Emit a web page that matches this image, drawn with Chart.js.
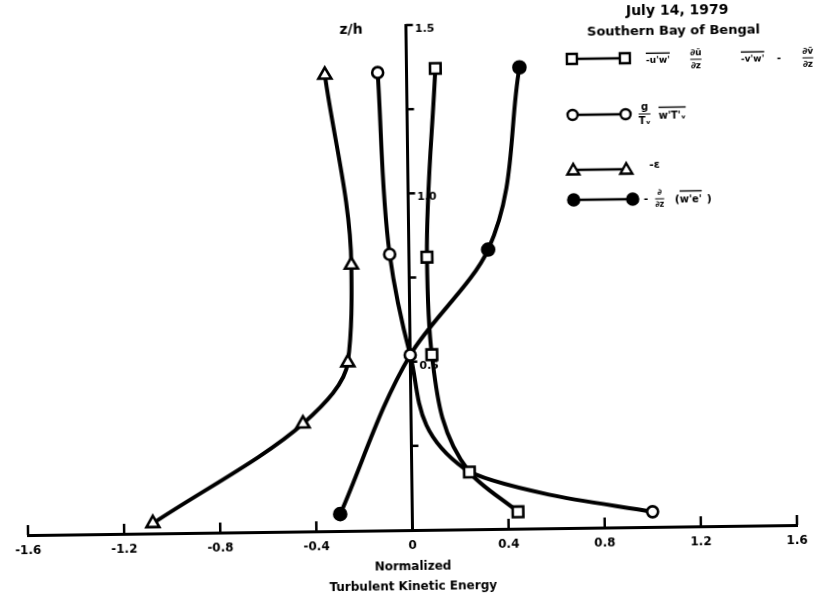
<!DOCTYPE html>
<html>
<head>
<meta charset="utf-8">
<title>Turbulent kinetic energy budget</title>
<script src="https://cdn.jsdelivr.net/npm/chart.js@4.4.1/dist/chart.umd.min.js"></script>
<style>
  html, body { margin: 0; padding: 0; background: #fff; overflow: hidden; }
  /* the original sheet sits slightly skewed on the page */
  #tke { display: block; transform: rotate(-0.75deg); transform-origin: 50% 50%; }
</style>
</head>
<body>
<canvas id="tke" width="829" height="600"></canvas>
<script>
// axis ticks
const xTicks = [-1.6, -1.2, -0.8, -0.4, 0, 0.4, 0.8, 1.2, 1.6];
const zTicks = [0.25, 0.5, 0.75, 1.0, 1.25, 1.5];
const zLabelled = [0.5, 1.0, 1.5];

// shear production  -u'w' du/dz - v'w' dv/dz
const shearZ   = [1.37, 0.81, 0.52, 0.17, 0.05];
const shearTKE = [0.12, 0.075, 0.09, 0.24, 0.44];

// buoyancy  g/Tv w'Tv'  (points 4 and 5 lie on the curve without a symbol)
const buoyZ      = [1.36, 0.82, 0.52, 0.18, 0.10, 0.045];
const buoyTKE    = [-0.12, -0.08, 0.0, 0.22, 0.57, 1.0];
const buoyMarked = [true, true, true, false, false, true];

// dissipation  -eps
const dissZ   = [1.355, 0.79, 0.50, 0.32, 0.03];
const dissTKE = [-0.34, -0.24, -0.26, -0.45, -1.08];

// turbulent transport  -d/dz (w'e')  (the curve runs through z/h = 0.52 on the axis)
const transZ      = [1.37, 0.83, 0.52, 0.05];
const transTKE    = [0.47, 0.33, 0.0, -0.30];
const transMarked = [true, true, false, true];

const ink = '#000';
const face = 'DejaVu Sans';
Chart.defaults.font.family = face;

function pts(xs, zs) {
  return xs.map((v, i) => ({ x: v, y: zs[i] }));
}

function series(xs, zs, style, extra) {
  return Object.assign({
    data: pts(xs, zs),
    borderColor: ink,
    borderWidth: 4,
    pointStyle: style,
    pointBackgroundColor: '#fff',
    pointBorderColor: ink,
    pointBorderWidth: 2.6,
    cubicInterpolationMode: 'monotone',
    fill: false
  }, extra);
}

// little helpers for the legend formulas
function txt(ctx, s, x, y, size, align) {
  ctx.font = 'bold ' + size + 'px "' + face + '"';
  ctx.textAlign = align || 'left';
  ctx.textBaseline = 'middle';
  ctx.fillText(s, x, y);
  return ctx.measureText(s).width;
}
function overlined(ctx, s, x, y, size) {
  const w = txt(ctx, s, x, y, size);
  ctx.lineWidth = 1.4;
  ctx.beginPath();
  ctx.moveTo(x, y - size * 0.85);
  ctx.lineTo(x + w, y - size * 0.85);
  ctx.stroke();
  return w;
}
function frac(ctx, num, den, cx, y, size) {
  txt(ctx, num, cx, y - size * 0.7, size, 'center');
  txt(ctx, den, cx, y + size * 0.7, size, 'center');
  ctx.font = 'bold ' + size + 'px "' + face + '"';
  const w = Math.max(ctx.measureText(num).width, ctx.measureText(den).width);
  ctx.lineWidth = 1;
  ctx.beginPath();
  ctx.moveTo(cx - w / 2, y);
  ctx.lineTo(cx + w / 2, y);
  ctx.stroke();
}
function symbol(ctx, style, x, y) {
  ctx.lineWidth = 2.4;
  ctx.fillStyle = style === 'filled' ? ink : '#fff';
  ctx.beginPath();
  if (style === 'rect') {
    ctx.rect(x - 5, y - 5, 10, 10);
  } else if (style === 'triangle') {
    ctx.moveTo(x, y - 6);
    ctx.lineTo(x + 6, y + 4.5);
    ctx.lineTo(x - 6, y + 4.5);
    ctx.closePath();
  } else {
    ctx.arc(x, y, style === 'filled' ? 5.5 : 5, 0, Math.PI * 2);
  }
  ctx.fill();
  ctx.stroke();
  ctx.fillStyle = ink;
}
function sample(ctx, style, x1, x2, y) {
  ctx.lineWidth = 2.5;
  ctx.beginPath();
  ctx.moveTo(x1, y);
  ctx.lineTo(x2, y);
  ctx.stroke();
  symbol(ctx, style, x1, y);
  symbol(ctx, style, x2, y);
}

// axis through x = 0, tick marks and all the lettering
const crossAxes = {
  id: 'crossAxes',
  beforeDatasetsDraw(chart) {
    const { ctx, scales: { x, y } } = chart;
    const x0 = x.getPixelForValue(0);
    const yb = y.getPixelForValue(0);
    ctx.save();
    ctx.strokeStyle = ink;
    ctx.fillStyle = ink;
    ctx.lineWidth = 3;
    ctx.beginPath();
    ctx.moveTo(x0, yb);
    ctx.lineTo(x0, y.getPixelForValue(zTicks[zTicks.length - 1]) - 1);
    ctx.stroke();
    ctx.lineWidth = 2.5;
    zTicks.forEach(v => {
      const py = y.getPixelForValue(v);
      ctx.beginPath();
      ctx.moveTo(x0, py);
      ctx.lineTo(x0 + 7, py);
      ctx.stroke();
    });
    xTicks.forEach(v => {
      const px = x.getPixelForValue(v);
      ctx.beginPath();
      ctx.moveTo(px, yb);
      ctx.lineTo(px, yb - 10);
      ctx.stroke();
    });
    zLabelled.forEach(v => {
      txt(ctx, v.toFixed(1), x0 + 9, y.getPixelForValue(v) + 4, 11);
    });
    txt(ctx, 'z/h', x0 - 55, y.getPixelForValue(1.5) + 4, 14, 'center');
    ctx.restore();
  },
  afterDraw(chart) {
    const ctx = chart.ctx;
    ctx.save();
    ctx.strokeStyle = ink;
    ctx.fillStyle = ink;
    txt(ctx, 'July 14, 1979', 681, 14, 14, 'center');
    txt(ctx, 'Southern Bay of Bengal', 677, 35, 13, 'center');

    sample(ctx, 'rect', 575, 628, 61);
    overlined(ctx, "-u'w'", 649, 64, 9);
    frac(ctx, '\u2202\u016b', '\u2202z', 699, 63, 9);
    overlined(ctx, "-v'w'", 744, 64, 9);
    txt(ctx, '-', 780, 63, 10);
    frac(ctx, '\u2202v\u0304', '\u2202z', 811, 63, 9);

    sample(ctx, 'circle', 575, 628, 117);
    frac(ctx, 'g', 'T\u1d65', 647, 117, 10);
    overlined(ctx, "w'T'\u1d65", 661, 119, 10);

    sample(ctx, 'triangle', 575, 628, 172);
    txt(ctx, '-\u03b5', 651, 168, 11);

    sample(ctx, 'filled', 575, 634, 202);
    txt(ctx, '-', 645, 202, 11);
    frac(ctx, '\u2202', '\u2202z', 661, 202, 8);
    txt(ctx, '(', 676, 203, 11);
    overlined(ctx, "w'e'", 681, 203, 10);
    txt(ctx, ')', 708, 203, 11);
    ctx.restore();
  }
};

new Chart(document.getElementById('tke'), {
  type: 'line',
  data: {
    datasets: [
      series(shearTKE, shearZ, 'rect', { pointRadius: 7.5 }),
      series(buoyTKE, buoyZ, 'circle', { pointRadius: buoyMarked.map(m => (m ? 5.5 : 0)) }),
      series(dissTKE, dissZ, 'triangle', { pointRadius: 7.5 }),
      series(transTKE, transZ, 'circle', {
        pointRadius: transMarked.map(m => (m ? 6 : 0)),
        pointBackgroundColor: ink
      })
    ]
  },
  options: {
    responsive: false,
    animation: false,
    indexAxis: 'y',
    layout: { padding: { top: 25, left: 25, right: 35, bottom: 0 } },
    plugins: { legend: { display: false }, tooltip: { enabled: false } },
    scales: {
      x: {
        type: 'linear',
        min: -1.6,
        max: 1.6,
        afterBuildTicks: s => { s.ticks = xTicks.map(v => ({ value: v })); },
        afterFit: s => { s.height = 70; },
        grid: { display: false, drawTicks: false },
        border: { display: true, width: 3, color: ink },
        ticks: {
          color: ink,
          padding: 9,
          maxRotation: 0,
          font: { size: 12, weight: 'bold' },
          callback: v => (v === 0 ? '0' : v.toFixed(1))
        },
        title: {
          display: true,
          text: ['Normalized', 'Turbulent Kinetic Energy'],
          color: ink,
          font: { size: 12, weight: 'bold', lineHeight: 1.6 },
          padding: { top: 0, bottom: 4 }
        }
      },
      y: { type: 'linear', min: 0, max: 1.5, display: false }
    }
  },
  plugins: [crossAxes]
});
</script>
</body>
</html>
